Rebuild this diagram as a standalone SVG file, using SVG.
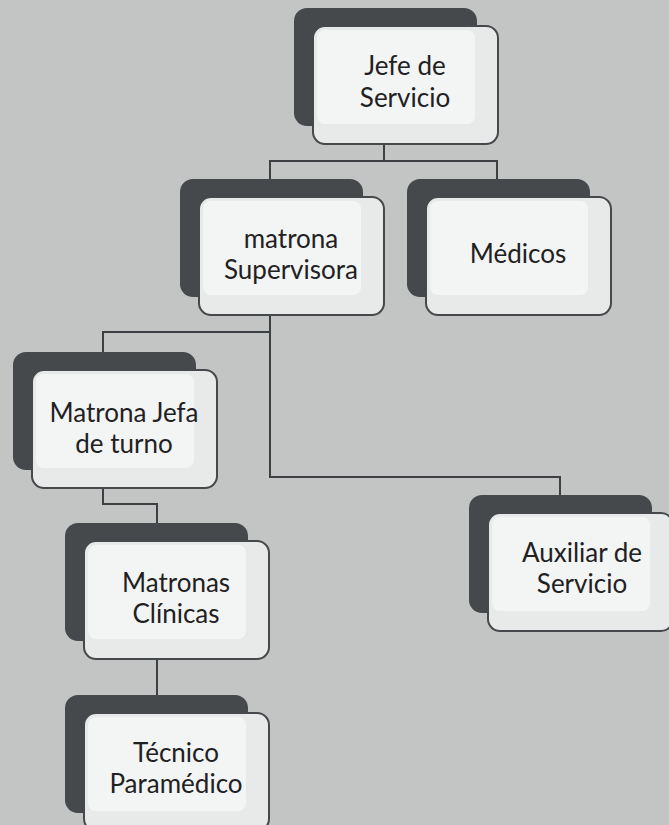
<svg xmlns="http://www.w3.org/2000/svg" width="669" height="825" viewBox="0 0 669 825">
  <style>
    .back { fill: #46494c; }
    .front { fill: #e8eaea; stroke: #45494b; stroke-width: 2; }
    .inner { fill: #f3f4f4; }
    .lbl { font-family: Lato, "Open Sans", "Liberation Sans", sans-serif; font-size: 26px; fill: #1f2122; text-anchor: middle; }
    .conn { fill: none; stroke: #3c4042; stroke-width: 2; }
  </style>
  <defs>
    <g id="card">
      <rect class="back" x="0" y="0" width="183" height="118" rx="13"/>
      <rect class="front" x="19" y="18" width="185" height="118" rx="12"/>
      <rect class="inner" x="23" y="22" width="158" height="94" rx="8"/>
    </g>
  </defs>
  <rect x="0" y="0" width="669" height="825" fill="#c3c5c5"/>

  <g id="connectors">
    <path class="conn" d="M384 143 V161 M270 179 V161 H497 V179"/>
    <path class="conn" d="M270 313 V477 H560 V495"/>
    <path class="conn" d="M270 332 H103 V352"/>
    <path class="conn" d="M103 488 V504 H157 V523"/>
    <path class="conn" d="M157 658 V695"/>
  </g>

  <g id="jefe-servicio" transform="translate(294,8)">
    <use href="#card"/>
    <text class="lbl" x="111" y="67">Jefe de</text>
    <text class="lbl" x="111" y="99">Servicio</text>
  </g>

  <g id="matrona-supervisora" transform="translate(180,179)">
    <use href="#card"/>
    <text class="lbl" x="111" y="69">matrona</text>
    <text class="lbl" x="111" y="100">Supervisora</text>
  </g>

  <g id="medicos" transform="translate(407,179)">
    <use href="#card"/>
    <text class="lbl" x="111" y="84">Médicos</text>
  </g>

  <g id="matrona-jefa-turno" transform="translate(13,352)">
    <use href="#card"/>
    <text class="lbl" x="111" y="70">Matrona Jefa</text>
    <text class="lbl" x="111" y="101">de turno</text>
  </g>

  <g id="matronas-clinicas" transform="translate(65,523)">
    <use href="#card"/>
    <text class="lbl" x="111" y="69">Matronas</text>
    <text class="lbl" x="111" y="100">Clínicas</text>
  </g>

  <g id="tecnico-paramedico" transform="translate(65,695)">
    <use href="#card"/>
    <text class="lbl" x="111" y="67">Técnico</text>
    <text class="lbl" x="111" y="98">Paramédico</text>
  </g>

  <g id="auxiliar-servicio" transform="translate(469,495)">
    <use href="#card"/>
    <text class="lbl" x="113" y="67">Auxiliar de</text>
    <text class="lbl" x="113" y="98">Servicio</text>
  </g>
</svg>
